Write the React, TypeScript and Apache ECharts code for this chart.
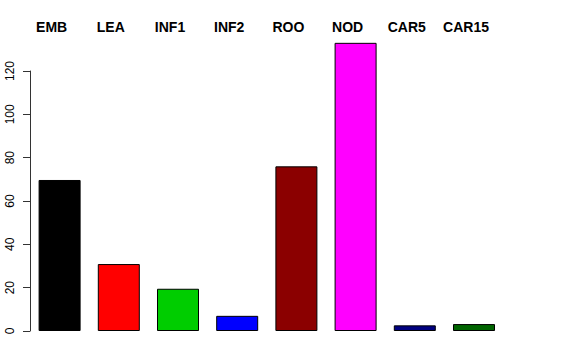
import React, { useEffect, useRef } from "react";
import * as echarts from "echarts";

const categories = ["EMB", "LEA", "INF1", "INF2", "ROO", "NOD", "CAR5", "CAR15"];
const values = [69.7, 30.9, 19.5, 7, 76, 133, 2.6, 3.2];
const colors = ["#000000", "#FF0000", "#00CD00", "#0000FF", "#8B0000", "#FF00FF", "#000080", "#006400"];
const yTicks = [0, 20, 40, 60, 80, 100, 120];

export default function App() {
  const ref = useRef<HTMLDivElement>(null);
  useEffect(() => {
    const chart = echarts.init(ref.current!, null, { renderer: "svg" });
    chart.setOption({
      animation: false,
      backgroundColor: "#ffffff",
      textStyle: { fontFamily: "Liberation Sans" },
      grid: { left: 30, right: 72.4, top: 71, bottom: 29 },
      xAxis: {
        type: "category",
        position: "top",
        data: categories,
        axisLine: { show: false },
        axisTick: { show: false },
        axisLabel: {
          interval: 0,
          hideOverlap: false,
          margin: 37,
          fontSize: 14,
          fontWeight: "bold",
          color: "#000",
          fontFamily: "Liberation Sans",
          padding: [0, 16, 0, 0],
        },
      },
      yAxis: {
        type: "value",
        min: yTicks[0],
        max: yTicks[yTicks.length - 1],
        interval: 20,
        splitLine: { show: false },
        axisLine: { show: true, lineStyle: { color: "#333", width: 1 } },
        axisTick: { show: true, length: 7, lineStyle: { color: "#333", width: 1 } },
        axisLabel: {
          rotate: 90,
          margin: 14,
          fontSize: 12,
          color: "#000",
          fontFamily: "Liberation Sans",
        },
      },
      series: [
        {
          type: "bar",
          clip: false,
          barWidth: 42,
          data: values.map((v, i) => ({
            value: v,
            itemStyle: { color: colors[i], borderColor: "#000", borderWidth: 1 },
          })),
        },
      ],
    });
    return () => chart.dispose();
  }, []);
  return (
    <div
      ref={ref}
      style={{ position: "absolute", left: 0, top: 0, width: 576, height: 360, background: "#fff" }}
    />
  );
}
